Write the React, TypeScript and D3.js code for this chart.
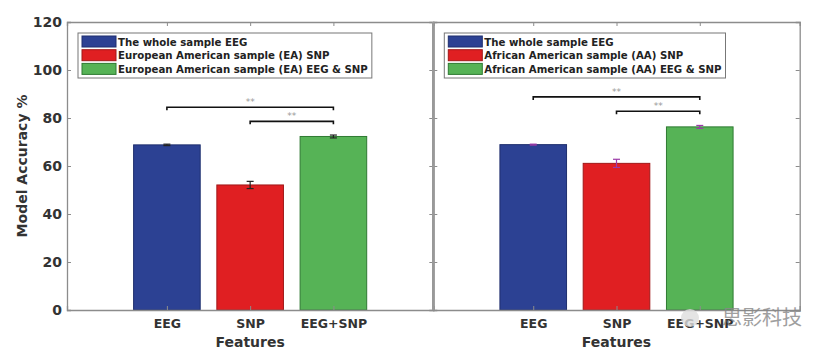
import React, { useRef, useEffect } from "react";
import * as d3 from "d3";

// categories and tick labels
const categories = ["EEG", "SNP", "EEG+SNP"];
const yTicks = [0, 20, 40, 60, 80, 100, 120];

// left panel (European American)
const eaValues = [68.8, 52.1, 72.3];
const eaErrors = [0.3, 1.5, 0.6];
const eaLegend = [
  "The whole sample EEG",
  "European American sample (EA) SNP",
  "European American sample (EA) EEG & SNP",
];
// brackets: [from index, to index, y value]
const eaBrackets: [number, number, number][] = [
  [0, 2, 84.5],
  [1, 2, 78.6],
];

// right panel (African American)
const aaValues = [68.9, 61.1, 76.3];
const aaErrors = [0.2, 1.7, 0.6];
const aaLegend = [
  "The whole sample EEG",
  "African American sample (AA) SNP",
  "African American sample (AA) EEG & SNP",
];
const aaBrackets: [number, number, number][] = [
  [0, 2, 88.8],
  [1, 2, 82.8],
];

const barColors = ["#2c4193", "#e01f22", "#56b356"];
const barEdges = ["#1f2f6e", "#a01818", "#2f7a32"];

const W = 824;
const H = 354;
const FONT = "'DejaVu Sans', sans-serif";
const AXIS = "#8c8c8c";
const TEXT = "#333";

const App: React.FC = () => {
  const svgRef = useRef<SVGSVGElement | null>(null);

  useEffect(() => {
    document.body.style.margin = "0";
    if (!svgRef.current) return;
    const svg = d3.select(svgRef.current);
    svg.selectAll("*").remove();

    const top = 22;
    const bottom = 310;
    const y = d3.scaleLinear().domain([0, 120]).range([bottom, top]);

    const drawPanel = (
      left: number,
      right: number,
      values: number[],
      errors: number[],
      legend: string[],
      brackets: [number, number, number][],
      errColor: string,
      showYLabels: boolean
    ) => {
      const x = d3.scaleLinear().domain([-0.2, 4.2]).range([left, right]);
      const g = svg.append("g");
      const barW = x(0.8) - x(0);

      // bars
      g.selectAll("rect.bar")
        .data(values)
        .enter()
        .append("rect")
        .attr("class", "bar")
        .attr("x", (_d, i) => x(i + 1) - barW / 2)
        .attr("y", (d) => y(d))
        .attr("width", barW)
        .attr("height", (d) => y(0) - y(d))
        .attr("fill", (_d, i) => barColors[i])
        .attr("stroke", (_d, i) => barEdges[i])
        .attr("stroke-width", 1);

      // error bars
      values.forEach((v, i) => {
        const cx = x(i + 1);
        const e = errors[i];
        const eg = g.append("g").attr("stroke", errColor).attr("stroke-width", 1.2);
        eg.append("line").attr("x1", cx).attr("x2", cx).attr("y1", y(v - e)).attr("y2", y(v + e));
        eg.append("line").attr("x1", cx - 3.5).attr("x2", cx + 3.5).attr("y1", y(v - e)).attr("y2", y(v - e));
        eg.append("line").attr("x1", cx - 3.5).attr("x2", cx + 3.5).attr("y1", y(v + e)).attr("y2", y(v + e));
      });

      // significance brackets
      brackets.forEach(([a, b, v]) => {
        const x1 = x(a + 1);
        const x2 = x(b + 1);
        const yy = y(v);
        g.append("path")
          .attr("d", `M${x1},${yy + 3}V${yy}H${x2}V${yy + 3}`)
          .attr("fill", "none")
          .attr("stroke", "#111")
          .attr("stroke-width", 1.6);
        g.append("text")
          .attr("x", (x1 + x2) / 2)
          .attr("y", yy - 2)
          .attr("text-anchor", "middle")
          .attr("font-family", FONT)
          .attr("font-size", 9)
          .attr("fill", "#999")
          .text("**");
      });

      // axes
      const yAxisL = g
        .append("g")
        .attr("transform", `translate(${left},0)`)
        .call(
          d3
            .axisLeft(y)
            .tickValues(yTicks)
            .tickSize(-4)
            .tickPadding(5)
            .tickFormat((d) => (showYLabels ? String(d) : ""))
        );
      const yAxisR = g
        .append("g")
        .attr("transform", `translate(${right},0)`)
        .call(d3.axisRight(y).tickValues(yTicks).tickSize(-4).tickFormat(() => ""));
      const xAxisT = g
        .append("g")
        .attr("transform", `translate(0,${top})`)
        .call(d3.axisTop(x).tickValues([1, 2, 3]).tickSize(-4).tickFormat(() => ""));
      const xAxisB = g
        .append("g")
        .attr("transform", `translate(0,${bottom})`)
        .call(
          d3
            .axisBottom(x)
            .tickValues([1, 2, 3])
            .tickSize(-4)
            .tickPadding(9)
            .tickFormat((d) => categories[(d as number) - 1])
        );
      [yAxisL, yAxisR, xAxisT, xAxisB].forEach((ax) => {
        ax.select(".domain").attr("stroke", AXIS).attr("stroke-width", 1.3);
        ax.selectAll(".tick line").attr("stroke", AXIS).attr("stroke-width", 1);
        ax.selectAll("text")
          .attr("font-family", FONT)
          .attr("font-weight", "bold")
          .attr("fill", TEXT);
      });
      yAxisL.selectAll("text").attr("font-size", 14);
      xAxisB.selectAll("text").attr("font-size", 12.5);

      // x title
      g.append("text")
        .attr("x", x(2))
        .attr("y", 347)
        .attr("text-anchor", "middle")
        .attr("font-family", FONT)
        .attr("font-weight", "bold")
        .attr("font-size", 14)
        .attr("fill", TEXT)
        .text("Features");

      // legend
      const lx = left + 11;
      const ly = 33;
      const lg = g.append("g");
      const box = lg
        .append("rect")
        .attr("x", lx)
        .attr("y", ly)
        .attr("height", 45)
        .attr("fill", "#fff")
        .attr("stroke", "#777")
        .attr("stroke-width", 1);
      let maxW = 0;
      legend.forEach((t, i) => {
        const ry = ly + 3 + i * 13.7;
        lg.append("rect")
          .attr("x", lx + 4)
          .attr("y", ry)
          .attr("width", 34)
          .attr("height", 11)
          .attr("fill", barColors[i])
          .attr("stroke", barEdges[i])
          .attr("stroke-width", 1);
        const txt = lg
          .append("text")
          .attr("x", lx + 40)
          .attr("y", ry + 9.5)
          .attr("font-family", FONT)
          .attr("font-weight", "bold")
          .attr("font-size", 10.2)
          .attr("fill", "#222")
          .text(t);
        const node = txt.node() as SVGTextElement;
        maxW = Math.max(maxW, node.getComputedTextLength());
      });
      box.attr("width", 40 + maxW + 4);
    };

    drawPanel(67, 433.3, eaValues, eaErrors, eaLegend, eaBrackets, "#222", true);
    drawPanel(433.3, 799.7, aaValues, aaErrors, aaLegend, aaBrackets, "#9b3aa8", false);

    // shared panel divider looks thicker
    svg
      .append("line")
      .attr("x1", 433.3)
      .attr("x2", 433.3)
      .attr("y1", top)
      .attr("y2", bottom)
      .attr("stroke", "#999")
      .attr("stroke-width", 2.6);

    // y title
    svg
      .append("text")
      .attr("transform", `translate(27,${(top + bottom) / 2}) rotate(-90)`)
      .attr("text-anchor", "middle")
      .attr("font-family", FONT)
      .attr("font-weight", "bold")
      .attr("font-size", 14)
      .attr("fill", TEXT)
      .text("Model Accuracy %");

    // watermark
    svg
      .append("circle")
      .attr("cx", 690)
      .attr("cy", 318)
      .attr("r", 9)
      .attr("fill", "#ddd")
      .attr("opacity", 0.8);
    svg
      .append("text")
      .attr("x", 722)
      .attr("y", 325)
      .attr("font-family", "'Noto Sans CJK SC', sans-serif")
      .attr("font-size", 20)
      .attr("fill", "#888")
      .attr("opacity", 0.8)
      .text("思影科技");
  }, []);

  return <svg ref={svgRef} width={W} height={H} style={{ display: "block", background: "#fff" }} />;
};

export default App;
